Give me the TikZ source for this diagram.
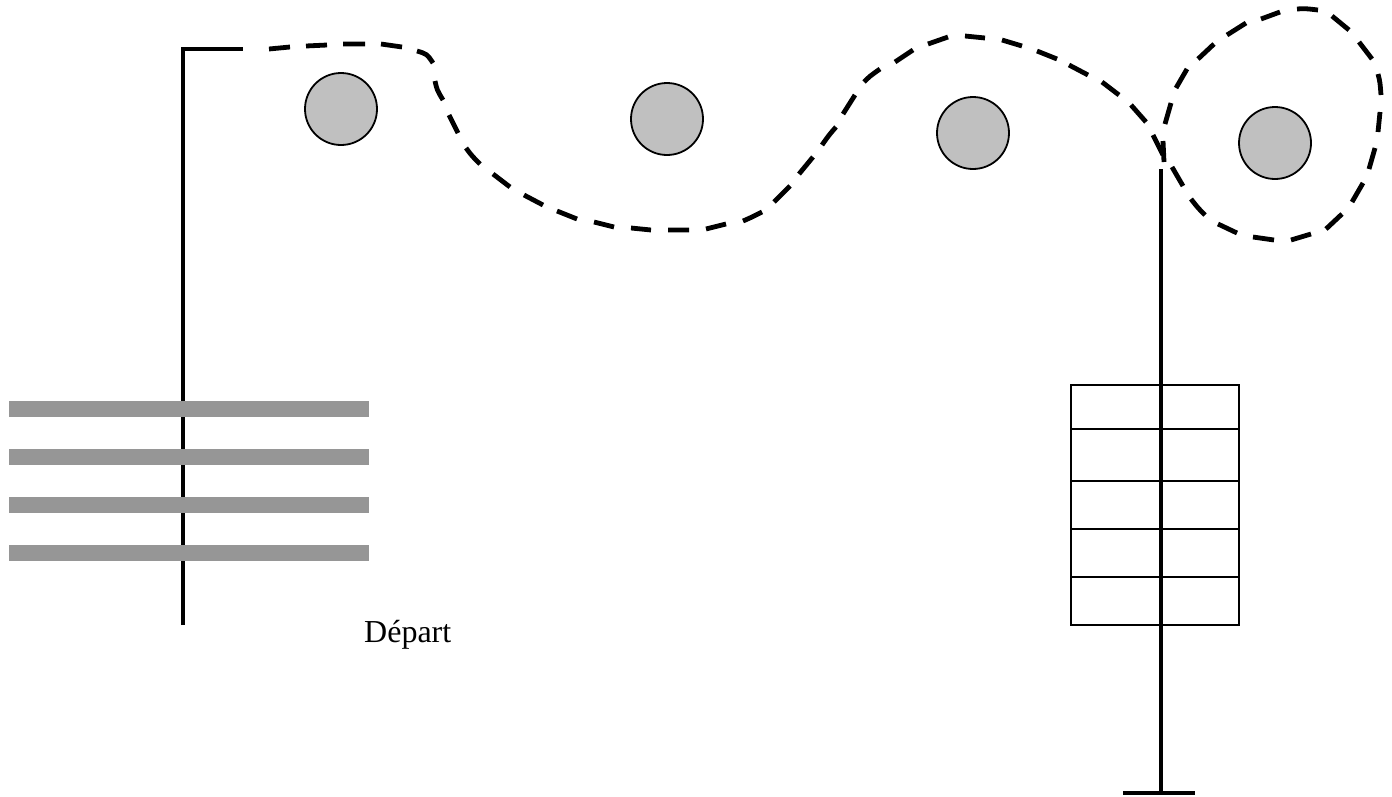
\documentclass[tikz,border=0pt]{standalone}
\usepackage{fontspec}
\setmainfont{Liberation Serif}
\definecolor{ballgray}{HTML}{C0C0C0}
\definecolor{bargray}{HTML}{969696}
\tikzset{
  ball/.style={circle,draw=black,line width=1.8pt,fill=ballgray,minimum size=72pt,inner sep=0pt},
  bar/.style={fill=bargray,draw=none},
  post/.style={line width=4.4pt,black},
  rope/.style={line width=4.8pt,black,line cap=butt},
  cell/.style={draw=black,line width=2.2pt,fill=white}
}
\begin{document}
\begin{tikzpicture}[x=1pt,y=-1pt]
\useasboundingbox (0,0) rectangle (1392,796);
\fill[white] (0,0) rectangle (1392,796);
% table
\foreach \a/\b in {385/429,429/481,481/529,529/577,577/625}
  \draw[cell] (1071,\a) rectangle (1239,\b);
% posts
\draw[post] (183,625) -- (183,48.7) -- (243,48.7);
\draw[post] (1161,169) -- (1161,793);
\draw[post] (1123,793) -- (1195,793);
% bars
\foreach \y in {401,449,497,545}
  \fill[bar] (9,\y) rectangle (369,\y+16);
% balls
\node[ball] (b1) at (341,109) {};
\node[ball] (b2) at (667,119) {};
\node[ball] (b3) at (973,133) {};
\node[ball] (b4) at (1275,143) {};
% rope, first span: dash by dash
\draw[rope]
 (269,49) -- (290,47)   (306,46) -- (327,45)   (343,44) -- (365,44)   (381,44) -- (402,47)
 (417,51) .. controls (427,54) .. (433,63)   (435,81) .. controls (437,90) .. (443,100)
 (449,115) -- (458,133)   (466,148) .. controls (472,156) .. (480,164)
 (493,174) -- (510,187)   (524,195) -- (543,205)   (557,211) -- (577,219)
 (594,222) -- (614,227)   (631,228) -- (651,230)   (668,230) -- (689,230)
 (706,229) -- (726,224)   (743,221) .. controls (750,218) .. (762,212)
 (774,202) -- (790,186)   (799,174) -- (813,157)   (822,145) .. controls (829,135) .. (836,127)
 (843,114) -- (855,95)    (864,82) .. controls (870,76) .. (880,69)
 (895,62) -- (913,50)     (928,44) -- (948,37)     (965,36) -- (985,38)
 (1002,40) -- (1022,46)   (1037,51) -- (1057,59)   (1069,65) -- (1088,75)
 (1102,82) -- (1119,95)   (1131,105) -- (1146,122) (1153,135) -- (1163,155);
% rope, loop round the last ball
\draw[rope]
 (1164,162) -- (1163,141) (1165,124) -- (1171,103) (1176,88) -- (1187,69)
 (1198,59) -- (1214,44)   (1227,35) -- (1246,23)   (1261,19) -- (1280,12)
 (1297,9) .. controls (1305,8.5) .. (1318,10)      (1332,16) -- (1349,30)
 (1359,42) -- (1372,59)   (1378,74) .. controls (1380,82) .. (1381,95)
 (1380,112) -- (1378,132) (1375,148) -- (1369,169) (1363,183) -- (1352,202)
 (1342,214) -- (1326,229) (1311,234) -- (1291,240) (1274,240) -- (1253,237)
 (1237,233) -- (1218,224) (1205,215) .. controls (1198,208) .. (1191,199)
 (1183,186) -- (1172,167);
% label
\node[anchor=base west,inner sep=0pt,font=\fontsize{32}{36}\selectfont] (dep) at (364,642) {Départ};
\end{tikzpicture}
\end{document}
